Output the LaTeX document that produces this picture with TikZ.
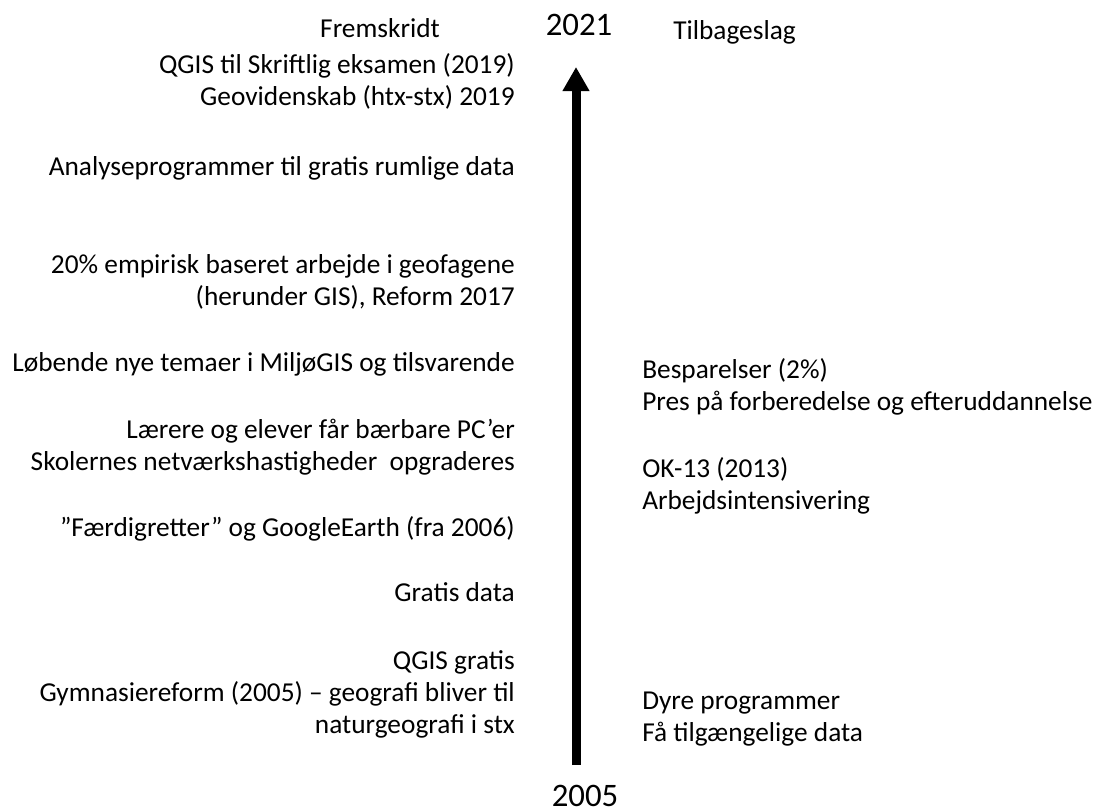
\documentclass[tikz,border=0pt]{standalone}
\usepackage{fontspec}
\setmainfont{Carlito}
\usetikzlibrary{positioning,arrows.meta}
\tikzstyle{fr}=[anchor=base east, align=right, inner sep=0pt, font=\fontsize{20.5}{24}\selectfont]
\tikzstyle{tb}=[anchor=base west, align=left, inner sep=0pt, font=\fontsize{20.5}{24}\selectfont]
\tikzstyle{yr}=[anchor=base, inner sep=0pt, font=\fontsize{24.6}{30}\selectfont]

\begin{document}
\begin{tikzpicture}[x=0.75pt, y=-0.75pt]
	\useasboundingbox (0,0) rectangle (1094,811);
	% overskrifter og aarstal (base = sidste linjes grundlinje)
	\node[yr] (Y21) at (579,35) {2021};
	\node[yr] (Y05) at (585,806) {2005};
	\node[fr, anchor=base] (Fr) at (380,37) {Fremskridt};
	\node[tb] (Ti) at (673,39) {Tilbageslag};
	% fremskridt
	\node[fr] (Qs) at (515,105) {QGIS til Skriftlig eksamen (2019)\\Geovidenskab (htx-stx) 2019};
	\node[fr] (An) at (515,175) {Analyseprogrammer til gratis rumlige data};
	\node[fr] (Em) at (515,305) {20\% empirisk baseret arbejde i geofagene\\(herunder GIS), Reform 2017};
	\node[fr] (Lb) at (515,371) {Løbende nye temaer i MiljøGIS og tilsvarende};
	\node[fr] (Pc) at (515,470) {Lærere og elever får bærbare PC’er\\Skolernes netværkshastigheder\ \ opgraderes};
	\node[fr] (Fd) at (515,536) {”Færdigretter” og GoogleEarth (fra 2006)};
	\node[fr] (Gd) at (515,601) {Gratis data};
	\node[fr] (Qg) at (515,733) {QGIS gratis\\Gymnasiereform (2005) – geografi bliver til\\naturgeografi i stx};
	% tilbageslag
	\node[tb] (Bs) at (642,410) {Besparelser (2\%)\\Pres på forberedelse og efteruddannelse};
	\node[tb] (Ok) at (642,509) {OK-13 (2013)\\Arbejdsintensivering};
	\node[tb] (Dy) at (642,741) {Dyre programmer\\Få tilgængelige data};
	% tidslinje
	\coordinate (Lo) at (576,765);
	\coordinate (Hi) at (576,67);
	\draw[line width=6.75pt, -{Triangle[width=19pt,length=18pt]}] (Lo) -- (Hi);
\end{tikzpicture}
\end{document}
